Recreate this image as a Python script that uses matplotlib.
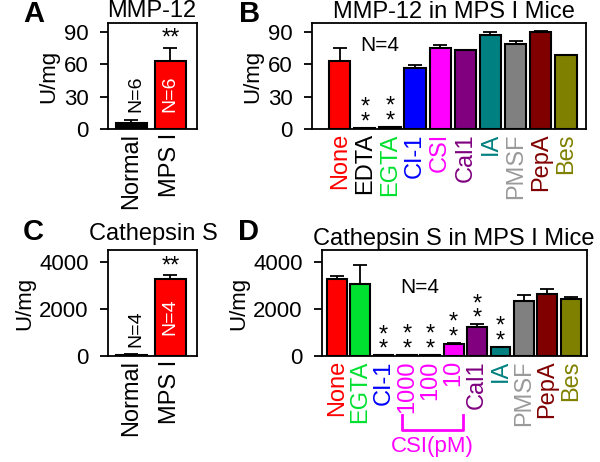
import numpy as np
import matplotlib
matplotlib.use('Agg')
import matplotlib.pyplot as plt
import matplotlib.transforms as mtransforms

plt.rcParams['font.family'] = ['Liberation Sans', 'DejaVu Sans']

# ---- data ----
# A: MMP-12
a_labels = ['Normal', 'MPS I']
a_vals = [6, 63]
a_errs = [2, 12]
a_n = ['N=6', 'N=6']

# B: MMP-12 in MPS I mice, with inhibitors
b_labels = ['None', 'EDTA', 'EGTA', 'CI-1', 'CSI', 'Cal1', 'IA', 'PMSF', 'PepA', 'Bes']
b_vals = [62.7, 1.0, 2.0, 56.5, 74.5, 72.9, 86.6, 78.2, 90.0, 68.3]
b_errs = [11.8, 0.3, 0.3, 3.0, 2.8, 0.5, 3.0, 3.0, 0.6, 0.5]
b_stars = [False, True, True, False, False, False, False, False, False, False]

# C: Cathepsin S
c_labels = ['Normal', 'MPS I']
c_vals = [60, 3280]
c_errs = [10, 160]
c_n = ['N=4', 'N=4']

# D: Cathepsin S in MPS I mice, with inhibitors
d_labels = ['None', 'EGTA', 'CI-1', '1000', '100', '10', 'Cal1', 'IA', 'PMSF', 'PepA', 'Bes']
d_vals = [3293, 3053, 40, 50, 50, 495, 1244, 367, 2332, 2657, 2417]
d_errs = [113, 806, 5, 5, 5, 70, 113, 29, 255, 212, 99]
d_stars = [False, False, True, True, True, True, True, True, False, False, False]

# colours per treatment
tcol = {'None': '#ff0000', 'EDTA': '#000000', 'EGTA': '#00e030', 'CI-1': '#0000ff',
        'CSI': '#ff00ff', '1000': '#ff00ff', '100': '#ff00ff', '10': '#ff00ff',
        'Cal1': '#800080', 'IA': '#008080', 'PMSF': '#808080', 'PepA': '#800000',
        'Bes': '#808000'}
tlab_col = dict(tcol)
tlab_col['PMSF'] = '#9a9a9a'
b_barcol = [tcol[l] for l in b_labels]
b_barcol[2] = '#000000'
d_barcol = [tcol[l] for l in d_labels]
d_barcol[2] = '#000000'


def setup(ax, ylim, yticks, xlim):
    ax.set_ylim(*ylim)
    ax.set_xlim(*xlim)
    ax.set_yticks(yticks)
    for s in ax.spines.values():
        s.set_linewidth(1.3)
    ax.tick_params(axis='y', direction='out', length=6, width=1.3, pad=8, labelsize=16)
    ax.tick_params(axis='x', length=0, pad=3, labelsize=17)
    ax.set_ylabel('U/mg', fontsize=16, labelpad=3)


def bars(ax, vals, errs, colors, width=0.85):
    x = np.arange(len(vals))
    ax.bar(x, vals, width=width, color=colors, edgecolor='black', linewidth=1.5, zorder=2)
    ax.errorbar(x, vals, yerr=[np.zeros(len(vals)), errs], fmt='none', ecolor='black',
                elinewidth=1.3, capsize=5, capthick=1.3, zorder=3)
    return x


def xlabels(ax, labels, colors):
    ax.set_xticks(np.arange(len(labels)))
    ax.set_xticklabels(labels, rotation=90, fontsize=17)
    for t, c in zip(ax.get_xticklabels(), colors):
        t.set_color(c)


def stars(ax, xi, top, txt, dy):
    # significance marks just above the error bar
    ax.annotate(txt, xy=(xi, top), xytext=(0, dy), textcoords='offset points',
                ha='center', va='bottom', fontsize=17, linespacing=0.55)


fig = plt.figure(figsize=(6, 4.62), dpi=100)

# ---- A ----
axA = fig.add_axes([0.18, 0.7208, 0.148, 0.2294])
x = bars(axA, a_vals, a_errs, ['#000000', '#ff0000'], width=0.8)
setup(axA, (0, 98), [0, 30, 60, 90], (-0.6, 1.68))
xlabels(axA, a_labels, ['black', 'black'])
axA.text(0.12, 33, a_n[0], rotation=90, ha='center', va='center', fontsize=14, color='black')
axA.text(1, 33, a_n[1], rotation=90, ha='center', va='center', fontsize=14, color='white')
stars(axA, 1, a_vals[1] + a_errs[1], '**', -1)

# ---- B ----
axB = fig.add_axes([0.52, 0.7208, 0.4567, 0.2294])
x = bars(axB, b_vals, b_errs, b_barcol)
setup(axB, (0, 98), [0, 30, 60, 90], (-1.1, 9.8))
xlabels(axB, b_labels, [tlab_col[l] for l in b_labels])
axB.text(1.6, 77, 'N=4', ha='center', va='center', fontsize=15)
for xi, v, e, s in zip(x, b_vals, b_errs, b_stars):
    if s:
        stars(axB, xi, v + e, '*\n*', -4)

# ---- C ----
axC = fig.add_axes([0.18, 0.2294, 0.148, 0.2294])
x = bars(axC, c_vals, c_errs, ['#000000', '#ff0000'], width=0.8)
setup(axC, (0, 4510), [0, 2000, 4000], (-0.6, 1.68))
xlabels(axC, c_labels, ['black', 'black'])
axC.text(0.12, 1150, c_n[0], rotation=90, ha='center', va='center', fontsize=14, color='black')
axC.text(1, 1660, c_n[1], rotation=90, ha='center', va='center', fontsize=14, color='white')
stars(axC, 1, c_vals[1] + c_errs[1], '**', -2)

# ---- D ----
axD = fig.add_axes([0.5367, 0.2294, 0.4417, 0.2294])
x = bars(axD, d_vals, d_errs, d_barcol)
setup(axD, (0, 4510), [0, 2000, 4000], (-0.63, 10.7))
xlabels(axD, d_labels, [tlab_col[l] for l in d_labels])
axD.text(3.56, 2936, 'N=4', ha='center', va='center', fontsize=15)
for xi, v, e, s in zip(x, d_vals, d_errs, d_stars):
    if s:
        stars(axD, xi, v + e, '*\n*', -4)

# bracket under the CSI concentrations
trans = mtransforms.blended_transform_factory(axD.transData, axD.transAxes)
i0, i1 = d_labels.index('1000'), d_labels.index('10')
bx = [i0 - 0.2, i0 - 0.2, i1 + 0.4, i1 + 0.4]
by = [-0.56, -0.70, -0.70, -0.56]
axD.plot(bx, by, color='#ff00ff', lw=2, transform=trans, clip_on=False)
axD.text((bx[0] + bx[-1]) / 2, -0.75, 'CSI(pM)', color='#ff00ff', fontsize=16,
         ha='center', va='top', transform=trans)

# titles and panel letters
fig.text(152 / 600, 1 - 11 / 462, 'MMP-12', ha='center', va='center', fontsize=17)
fig.text(454 / 600, 1 - 12 / 462, 'MMP-12 in MPS I Mice', ha='center', va='center', fontsize=17)
fig.text(153 / 600, 1 - 234 / 462, 'Cathepsin S', ha='center', va='center', fontsize=17)
fig.text(454 / 600, 1 - 239 / 462, 'Cathepsin S in MPS I Mice', ha='center', va='center', fontsize=17)
for lab, px, py in [('A', 34, 14), ('B', 250, 14), ('C', 33, 232), ('D', 249, 232)]:
    fig.text(px / 600, 1 - py / 462, lab, ha='center', va='center', fontsize=21, fontweight='bold')

fig.savefig('out.png', dpi=100)
